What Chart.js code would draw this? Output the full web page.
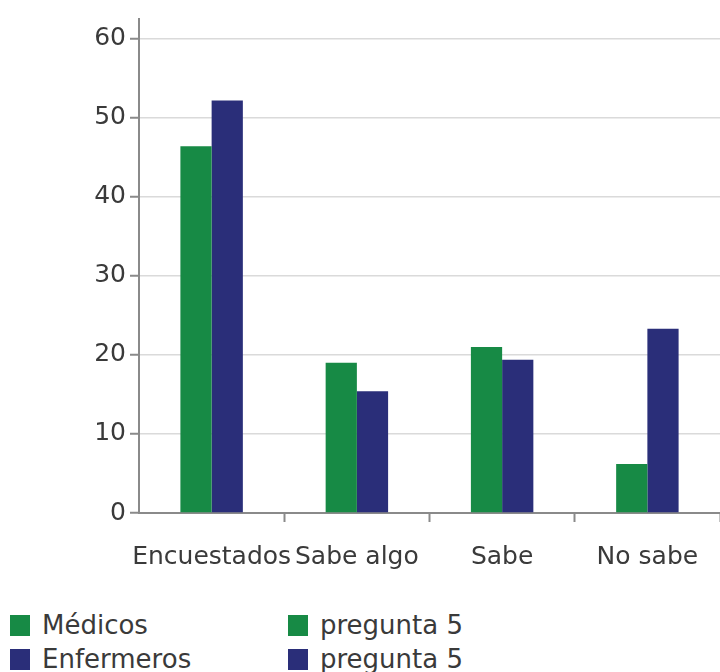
<!DOCTYPE html>
<html>
<head>
<meta charset="utf-8">
<script src="https://cdn.jsdelivr.net/npm/chart.js@4.4.1/dist/chart.umd.min.js"></script>
<style>
  html, body { margin: 0; padding: 0; background: #fff; }
  body { width: 720px; height: 672px; position: relative; overflow: hidden; font-family: "DejaVu Sans", sans-serif; }
  #wrap { position: absolute; left: 0; top: 0; width: 720px; height: 600px; }
  #legend { position: absolute; left: 10px; top: 610px; display: grid; grid-template-columns: 278px 300px; row-gap: 4px; }
  .item { display: flex; align-items: center; height: 30px; font-size: 26px; color: #3a3a3a; }
  .box { width: 20px; height: 21px; margin-right: 12px; flex: none; }
</style>
</head>
<body>
<div id="wrap"><canvas id="chart"></canvas></div>
<div id="legend"></div>
<script>
// chart data
const categories = ['Encuestados', 'Sabe algo', 'Sabe', 'No sabe'];
const medicos = [46.4, 19, 21, 6.2];
const enfermeros = [52.2, 15.4, 19.4, 23.3];
const seriesNames = ['Médicos', 'Enfermeros'];
const extraLegend = ['pregunta 5', 'pregunta 5'];
const yTicks = [0, 10, 20, 30, 40, 50, 60];

const GREEN = '#178a45';
const NAVY = '#2a2e79';

document.addEventListener('DOMContentLoaded', function () {
  buildLegend();
  drawChart();
});

function buildLegend() {
  const legend = document.getElementById('legend');
  const colors = [GREEN, NAVY];
  // column-wise order: series names on the left, extra labels on the right
  for (let row = 0; row < 2; row++) {
    [seriesNames[row], extraLegend[row]].forEach(function (label) {
      const item = document.createElement('div');
      item.className = 'item';
      const box = document.createElement('span');
      box.className = 'box';
      box.style.background = colors[row];
      item.appendChild(box);
      item.appendChild(document.createTextNode(label));
      legend.appendChild(item);
    });
  }
}

function drawChart() {
  const ctx = document.getElementById('chart').getContext('2d');
  new Chart(ctx, {
    type: 'bar',
    data: {
      labels: categories,
      datasets: [
        { label: seriesNames[0], data: medicos, backgroundColor: GREEN },
        { label: seriesNames[1], data: enfermeros, backgroundColor: NAVY }
      ]
    },
    options: {
      responsive: true,
      maintainAspectRatio: false,
      animation: false,
      layout: { padding: { top: 0, right: 0, bottom: 8, left: 0 } },
      plugins: {
        legend: { display: false },
        tooltip: { enabled: false }
      },
      datasets: {
        bar: { categoryPercentage: 0.43, barPercentage: 1.0 }
      },
      scales: {
        x: {
          grid: {
            offset: true,
            drawOnChartArea: false,
            tickLength: 9,
            tickWidth: 2,
            tickColor: function (c) { return c.index === 0 ? 'rgba(0,0,0,0)' : '#8a8a8a'; }
          },
          border: { display: true, color: '#8a8a8a', width: 2 },
          ticks: {
            color: '#3a3a3a',
            padding: 20,
            maxRotation: 0,
            autoSkip: false,
            font: { family: '"DejaVu Sans", sans-serif', size: 25 }
          }
        },
        y: {
          min: 0,
          max: 62.5,
          afterBuildTicks: function (scale) {
            scale.ticks = yTicks.map(function (v) { return { value: v }; });
          },
          afterFit: function (scale) { scale.width = 139; },
          grid: {
            color: '#dadada',
            lineWidth: 1.5,
            tickLength: 9,
            tickColor: '#8a8a8a',
            tickWidth: 2
          },
          border: { display: true, color: '#8a8a8a', width: 2 },
          ticks: {
            color: '#3a3a3a',
            padding: 4,
            font: { family: '"DejaVu Sans", sans-serif', size: 25 }
          }
        }
      }
    }
  });
}
</script>
</body>
</html>
